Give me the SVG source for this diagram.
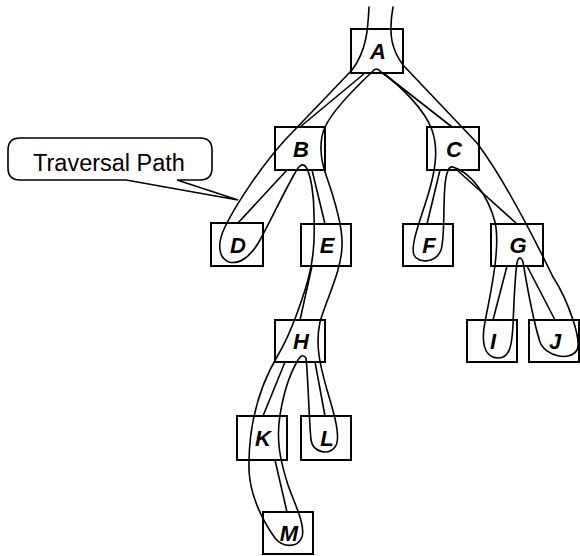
<svg xmlns="http://www.w3.org/2000/svg" width="580" height="556" viewBox="0 0 580 556">
<style>
.box{fill:#fff;stroke:#000;stroke-width:2}
.lbl{font-family:"Liberation Sans",Arial,sans-serif;font-size:22px;font-weight:bold;font-style:italic;text-anchor:middle;fill:#000}
.ln{fill:none;stroke:#000;stroke-width:1.6;stroke-linecap:round;stroke-linejoin:round}
.call{fill:#fff;stroke:#000;stroke-width:1.6}
.ct{font-family:"Liberation Sans",Arial,sans-serif;font-size:23.5px;fill:#000}
</style>
<rect width="580" height="556" fill="#fff"/>
<g id="nodes">
<g id="A"><rect class="box" x="351" y="29" width="52" height="44"/><text class="lbl" x="378" y="59">A</text></g>
<g id="B"><rect class="box" x="275" y="127" width="50" height="43"/><text class="lbl" x="301" y="157">B</text></g>
<g id="C"><rect class="box" x="427" y="127" width="52" height="43"/><text class="lbl" x="454" y="157">C</text></g>
<g id="D"><rect class="box" x="211" y="223" width="52" height="43"/><text class="lbl" x="238" y="253">D</text></g>
<g id="E"><rect class="box" x="301" y="224" width="50" height="42"/><text class="lbl" x="327" y="253">E</text></g>
<g id="F"><rect class="box" x="403" y="224" width="50" height="42"/><text class="lbl" x="429" y="253">F</text></g>
<g id="G"><rect class="box" x="491" y="224" width="52" height="42"/><text class="lbl" x="518" y="253">G</text></g>
<g id="H"><rect class="box" x="275" y="320" width="50" height="42"/><text class="lbl" x="301" y="349">H</text></g>
<g id="I"><rect class="box" x="467" y="320" width="50" height="42"/><text class="lbl" x="493" y="349">I</text></g>
<g id="J"><rect class="box" x="529" y="320" width="50" height="42"/><text class="lbl" x="555" y="349">J</text></g>
<g id="K"><rect class="box" x="237" y="416" width="50" height="44"/><text class="lbl" x="263" y="446">K</text></g>
<g id="L"><rect class="box" x="301" y="416" width="50" height="44"/><text class="lbl" x="327" y="446">L</text></g>
<g id="M"><rect class="box" x="263" y="512" width="50" height="42"/><text class="lbl" x="289" y="541">M</text></g>
</g>
<g id="connectors" class="ln">
<path class="ln" d="M365,73 L300,127 M383,73 L452,127 M287,170 L238,223 M312,170 L325,224 M440,170 L427,224 M457,170 L517,224 M312,266 L300,320 M507,266 L493,320 M527,266 L555,320 M285,362 L263,416 M315,362 L325,416 M275,460 L287,512"/>
<path id="traversal" class="ln" d="M369,7 C368,28 367,50 352,70 L285,140 C265,162 238,200 225,227 C217,243 218,258 229,262 C240,265 252,255 260,240 C270,222 285,190 295,173 C298,167 302,162 306,167 C311,175 314,195 314,215 C315,245 313,265 305,290 C298,312 290,335 278,355 C262,382 248,420 249,470 C250,495 262,520 275,538 C283,548 298,548 302,537 C306,525 293,500 288,485 C280,460 276,440 280,415 C284,390 292,370 298,360 C300,356 303,354 306,358 C308,375 309,420 311,440 C313,452 328,456 335,447 C342,438 333,410 327,390 C320,365 315,345 320,322 C326,300 342,270 342,245 C343,225 333,195 326,175 C320,158 319,140 325,127 C333,110 355,88 372,72 C375,68 378,68 381,72 C400,85 425,110 432,130 C439,150 435,172 428,195 C421,218 410,245 414,255 C418,264 436,263 441,250 C445,238 443,205 445,185 C446,175 448,166 453,167 C470,172 488,195 495,222 C501,248 490,295 485,322 C481,342 484,357 497,358 C510,359 512,345 513,325 C514,300 515,275 517,263 C518,257 521,256 523,262 C526,280 533,320 540,342 C545,356 570,362 577,350 C582,340 568,300 553,277 C535,240 505,180 477,143 L403,65 C392,50 388,35 393,7"/>
</g>
<g id="callout">
<path class="call" d="M20,138 H200 Q212,138 212,150 V168 Q212,180 200,180 H177 L238,200 L126,180 H20 Q8,180 8,168 V150 Q8,138 20,138 Z"/>
<text class="ct" x="33" y="171">Traversal Path</text>
</g>
</svg>
